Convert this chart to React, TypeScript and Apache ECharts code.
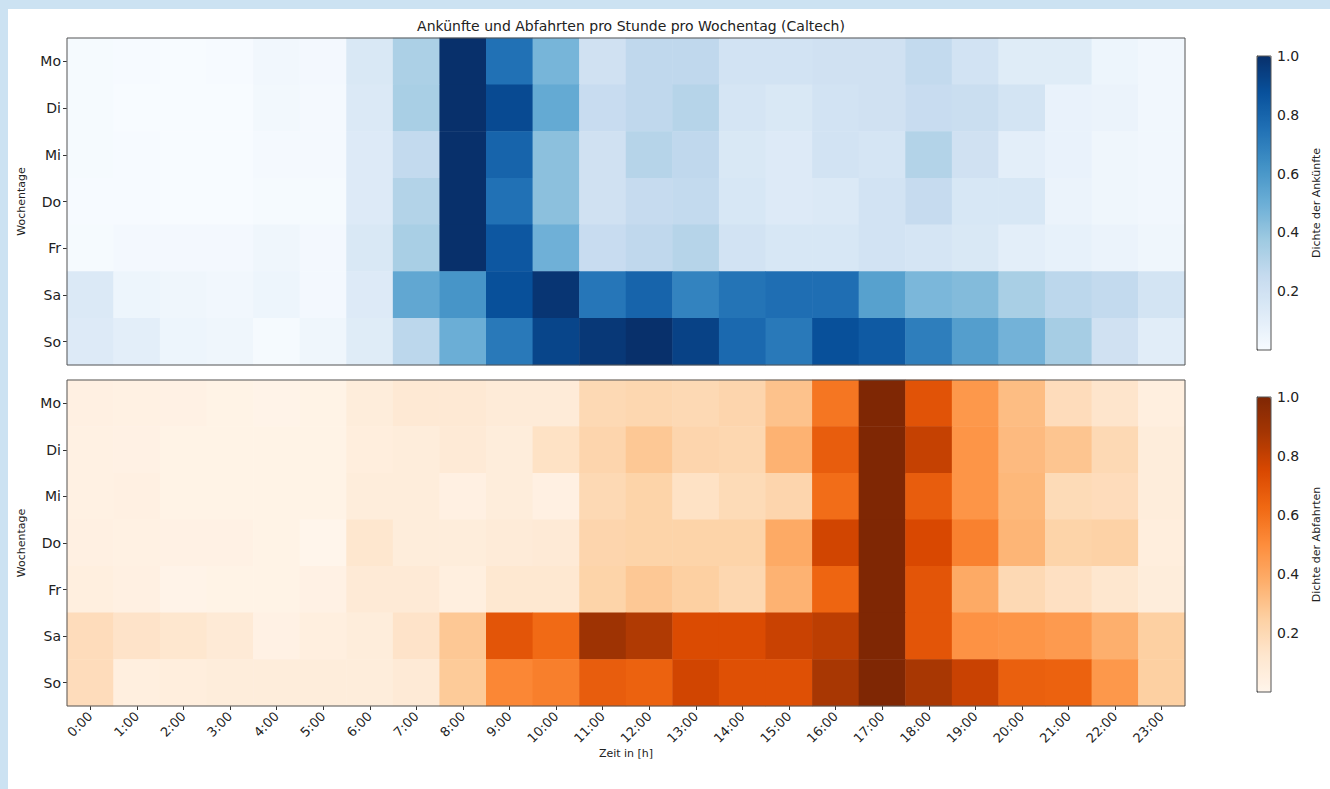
import React, { useEffect, useRef } from "react";
import * as echarts from "echarts";

const hours = ["0:00","1:00","2:00","3:00","4:00","5:00","6:00","7:00","8:00","9:00","10:00","11:00","12:00","13:00","14:00","15:00","16:00","17:00","18:00","19:00","20:00","21:00","22:00","23:00"];
const days = ["Mo", "Di", "Mi", "Do", "Fr", "Sa", "So"];

// Arrivals (Ankünfte) density per weekday, hours 0..23
const arrMo = [0.01,0.005,0.0,0.005,0.03,0.02,0.15,0.33,1.0,0.75,0.47,0.2,0.27,0.27,0.19,0.19,0.2,0.2,0.26,0.19,0.12,0.12,0.05,0.03];
const arrDi = [0.01,0.0,0.0,0.0,0.025,0.015,0.14,0.34,1.0,0.9,0.52,0.24,0.27,0.3,0.17,0.15,0.19,0.2,0.24,0.23,0.18,0.07,0.06,0.03];
const arrMi = [0.01,0.005,0.0,0.0,0.015,0.015,0.13,0.26,1.0,0.8,0.42,0.2,0.3,0.27,0.15,0.13,0.19,0.17,0.31,0.2,0.1,0.07,0.04,0.03];
const arrDo = [0.005,0.005,0.0,0.0,0.01,0.01,0.13,0.31,1.0,0.75,0.42,0.2,0.25,0.26,0.16,0.13,0.14,0.19,0.25,0.16,0.16,0.06,0.04,0.03];
const arrFr = [0.01,0.02,0.02,0.02,0.04,0.02,0.15,0.34,1.0,0.85,0.49,0.24,0.27,0.3,0.19,0.16,0.16,0.19,0.17,0.15,0.1,0.08,0.06,0.04];
const arrSa = [0.14,0.05,0.04,0.03,0.05,0.02,0.13,0.53,0.61,0.88,0.98,0.73,0.8,0.68,0.74,0.76,0.76,0.56,0.46,0.44,0.34,0.28,0.26,0.18];
const arrSo = [0.13,0.1,0.05,0.04,0.01,0.04,0.12,0.28,0.5,0.72,0.92,0.97,1.0,0.93,0.78,0.72,0.88,0.84,0.7,0.57,0.48,0.35,0.2,0.11];

// Departures (Abfahrten) density per weekday, hours 0..23
const depMo = [0.04,0.035,0.03,0.02,0.015,0.02,0.07,0.1,0.1,0.08,0.08,0.2,0.21,0.2,0.22,0.3,0.58,1.0,0.71,0.46,0.32,0.18,0.13,0.05];
const depDi = [0.035,0.03,0.02,0.02,0.02,0.02,0.06,0.07,0.09,0.07,0.15,0.22,0.28,0.22,0.21,0.36,0.67,1.0,0.8,0.47,0.33,0.29,0.2,0.07];
const depMi = [0.035,0.04,0.02,0.02,0.02,0.02,0.07,0.07,0.04,0.07,0.04,0.2,0.23,0.15,0.19,0.22,0.61,1.0,0.67,0.47,0.34,0.19,0.18,0.07];
const depDo = [0.04,0.035,0.03,0.03,0.02,0.0,0.12,0.07,0.07,0.08,0.09,0.22,0.23,0.23,0.23,0.39,0.77,1.0,0.75,0.54,0.35,0.23,0.24,0.06];
const depFr = [0.05,0.04,0.015,0.02,0.02,0.03,0.09,0.09,0.05,0.11,0.11,0.23,0.28,0.25,0.21,0.36,0.64,1.0,0.7,0.39,0.2,0.16,0.12,0.07];
const depSa = [0.18,0.14,0.12,0.09,0.03,0.05,0.07,0.14,0.28,0.7,0.62,0.9,0.85,0.74,0.74,0.79,0.82,1.0,0.7,0.48,0.47,0.45,0.37,0.25];
const depSo = [0.18,0.05,0.06,0.07,0.07,0.07,0.07,0.09,0.27,0.52,0.55,0.67,0.65,0.77,0.72,0.72,0.87,1.0,0.87,0.79,0.66,0.65,0.46,0.25];

const colorbarTicks = [0.2, 0.4, 0.6, 0.8, 1.0];

const blues = ["#f7fbff","#deebf7","#c6dbef","#9ecae1","#6baed6","#4292c6","#2171b5","#08519c","#08306b"];
const oranges = ["#fff5eb","#fee6ce","#fdd0a2","#fdae6b","#fd8d3c","#f16913","#d94801","#a63603","#7f2704"];

const FONT = "DejaVu Sans";

function toCells(rows: number[][]) {
  const out: number[][] = [];
  rows.forEach((row, d) => row.forEach((v, h) => out.push([h, d, v])));
  return out;
}

export default function App() {
  const ref = useRef<HTMLDivElement>(null);
  useEffect(() => {
    if (!ref.current) return;
    const chart = echarts.init(ref.current, null, { renderer: "svg" });
    const arrivals = toCells([arrMo, arrDi, arrMi, arrDo, arrFr, arrSa, arrSo]);
    const departures = toCells([depMo, depDi, depMi, depDo, depFr, depSa, depSo]);

    const heatY = () => ({
      type: "category",
      data: days,
      inverse: true,
      axisLine: { show: false },
      axisTick: { show: true, alignWithLabel: true, length: 4, lineStyle: { color: "#333" } },
      axisLabel: { color: "#222", fontSize: 14, fontFamily: FONT, margin: 6 },
      name: "Wochentage",
      nameLocation: "middle",
      nameRotate: 90,
      nameGap: 40,
      nameTextStyle: { color: "#222", fontSize: 11, fontFamily: FONT },
      splitLine: { show: false },
    });

    const cbY = (name: string) => ({
      type: "value",
      min: 0,
      max: 1,
      position: "right",
      axisLine: { show: true, lineStyle: { color: "#555" } },
      axisTick: { show: true, length: 4, customValues: colorbarTicks, lineStyle: { color: "#333" } },
      axisLabel: {
        show: true,
        customValues: colorbarTicks,
        color: "#222",
        fontSize: 14,
        fontFamily: FONT,
        margin: 6,
        formatter: (v: number) => v.toFixed(1),
      },
      splitLine: { show: false },
      name,
      nameLocation: "middle",
      nameRotate: 90,
      nameGap: 40,
      nameTextStyle: { color: "#222", fontSize: 11, fontFamily: FONT },
    });

    const option = {
      animation: false,
      backgroundColor: "transparent",
      title: {
        text: "Ankünfte und Abfahrten pro Stunde pro Wochentag (Caltech)",
        left: 626,
        textAlign: "center",
        top: 14,
        textStyle: { color: "#222", fontSize: 14, fontWeight: "normal", fontFamily: FONT },
      },
      grid: [
        { left: 67, top: 38, width: 1118, height: 327, show: true, borderColor: "#555", borderWidth: 1, backgroundColor: "transparent", z: 5 },
        { left: 67, top: 380, width: 1118, height: 326, show: true, borderColor: "#555", borderWidth: 1, backgroundColor: "transparent", z: 5 },
        { left: 1257, top: 56, width: 14, height: 294, show: true, borderColor: "#555", borderWidth: 1, backgroundColor: "transparent", z: 10 },
        { left: 1257, top: 397, width: 14, height: 295, show: true, borderColor: "#555", borderWidth: 1, backgroundColor: "transparent", z: 10 },
      ],
      xAxis: [
        {
          type: "category", gridIndex: 0, data: hours,
          axisLine: { show: false }, axisTick: { show: false }, axisLabel: { show: false }, splitLine: { show: false },
        },
        {
          type: "category", gridIndex: 1, data: hours,
          axisLine: { show: false },
          axisTick: { show: true, alignWithLabel: true, length: 4, lineStyle: { color: "#333" } },
          axisLabel: { color: "#222", fontSize: 13, fontFamily: FONT, rotate: 45, margin: 8, interval: 0 },
          splitLine: { show: false },
          name: "Zeit in [h]",
          nameLocation: "middle",
          nameGap: 33,
          nameTextStyle: { color: "#222", fontSize: 11, fontFamily: FONT },
        },
        { type: "value", gridIndex: 2, show: false, min: 0, max: 1 },
        { type: "value", gridIndex: 3, show: false, min: 0, max: 1 },
      ],
      yAxis: [
        { ...heatY(), gridIndex: 0 },
        { ...heatY(), gridIndex: 1 },
        { ...cbY("Dichte der Ankünfte"), gridIndex: 2 },
        { ...cbY("Dichte der Abfahrten"), gridIndex: 3 },
      ],
      visualMap: [
        {
          type: "continuous", seriesIndex: 0, min: 0, max: 1, calculable: false, show: true,
          left: 1257, top: 56, itemWidth: 14, itemHeight: 294, padding: 0, text: null,
          inRange: { color: blues }, textStyle: { color: "#222" },
        },
        {
          type: "continuous", seriesIndex: 1, min: 0, max: 1, calculable: false, show: true,
          left: 1257, top: 397, itemWidth: 14, itemHeight: 295, padding: 0, text: null,
          inRange: { color: oranges }, textStyle: { color: "#222" },
        },
      ],
      series: [
        { type: "heatmap", xAxisIndex: 0, yAxisIndex: 0, data: arrivals, itemStyle: { borderWidth: 0 }, emphasis: { disabled: true } },
        { type: "heatmap", xAxisIndex: 1, yAxisIndex: 1, data: departures, itemStyle: { borderWidth: 0 }, emphasis: { disabled: true } },
      ],
    };
    chart.setOption(option as any);
    return () => chart.dispose();
  }, []);

  return (
    <>
      <div
        style={{
          position: "fixed", left: 0, top: 0, width: 1330, height: 789, boxSizing: "border-box",
          background: "#ffffff", borderLeft: "8px solid #cce2f2", borderTop: "9px solid #cce2f2",
        }}
      />
      <div ref={ref} style={{ position: "fixed", left: 0, top: 0, width: 1330, height: 789 }} />
    </>
  );
}
